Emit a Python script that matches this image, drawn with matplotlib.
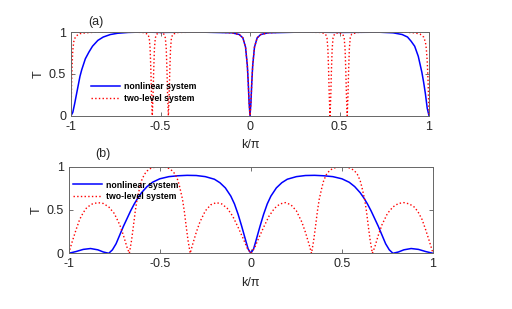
import matplotlib
matplotlib.use("Agg")
import matplotlib.pyplot as plt

plt.rcParams['font.family'] = ['Liberation Sans', 'DejaVu Sans']
plt.rcParams['axes.unicode_minus'] = False

# panel (a)
k_top_nl = [-1.0, -0.99, -0.98, -0.97, -0.96, -0.95, -0.94, -0.92, -0.90, -0.88,
            -0.85, -0.82, -0.78, -0.74, -0.68, -0.6, -0.5, -0.3, -0.1, -0.06,
            -0.04, -0.025, -0.015, -0.01, -0.005, 0.0,
            0.005, 0.01, 0.015, 0.025, 0.04, 0.06, 0.1, 0.3, 0.5,
            0.72, 0.8, 0.85, 0.88, 0.9, 0.92, 0.94, 0.96, 0.97, 0.98, 0.99, 1.0]
T_top_nl = [0, 0.04, 0.14, 0.25, 0.36, 0.47, 0.55, 0.68, 0.76, 0.83,
            0.9, 0.94, 0.97, 0.985, 0.995, 1.0, 0.995, 1.0, 0.99, 0.97,
            0.93, 0.82, 0.6, 0.4, 0.15, 0,
            0.15, 0.4, 0.6, 0.82, 0.93, 0.97, 0.99, 1.0, 0.995,
            0.998, 0.99, 0.97, 0.94, 0.89, 0.83, 0.71, 0.52, 0.4, 0.26, 0.09, 0]

k_top_tl = [-1.0, -0.997, -0.994, -0.99, -0.985, -0.98, -0.97, -0.95, -0.92, -0.85, -0.7, -0.6,
            -0.571, -0.563, -0.558, -0.554, -0.55, -0.546, -0.542, -0.538, -0.534, -0.529, -0.521, -0.5,
            -0.481, -0.473, -0.468, -0.464, -0.46, -0.456, -0.452, -0.448, -0.444, -0.439, -0.431, -0.4,
            -0.2, -0.1, -0.06, -0.04, -0.025, -0.015, -0.01, -0.005, 0.0,
            0.005, 0.01, 0.015, 0.025, 0.04, 0.06, 0.1, 0.2,
            0.4, 0.422, 0.430, 0.435, 0.439, 0.443, 0.447, 0.451, 0.455, 0.459, 0.464, 0.472, 0.495,
            0.518, 0.526, 0.531, 0.535, 0.539, 0.543, 0.547, 0.551, 0.555, 0.560, 0.568, 0.6,
            0.7, 0.85, 0.92, 0.95, 0.97, 0.98, 0.985, 0.99, 0.995, 1.0]
T_top_tl = [0, 0.35, 0.6, 0.78, 0.88, 0.92, 0.955, 0.98, 0.99, 1.0, 1.0, 0.995,
            0.975, 0.93, 0.8, 0.55, 0.22, 0, 0.22, 0.55, 0.8, 0.93, 0.975, 0.995,
            0.975, 0.93, 0.8, 0.55, 0.22, 0, 0.22, 0.55, 0.8, 0.93, 0.975, 0.995,
            1.0, 0.99, 0.97, 0.93, 0.82, 0.6, 0.4, 0.15, 0,
            0.15, 0.4, 0.6, 0.82, 0.93, 0.97, 0.99, 1.0,
            0.995, 0.975, 0.93, 0.8, 0.55, 0.22, 0, 0.22, 0.55, 0.8, 0.93, 0.975, 0.995,
            0.975, 0.93, 0.8, 0.55, 0.22, 0, 0.22, 0.55, 0.8, 0.93, 0.975, 0.995,
            1.0, 1.0, 0.99, 0.975, 0.94, 0.88, 0.8, 0.65, 0.4, 0]

# panel (b)
k_bot_nl = [-1.0, -0.96, -0.92, -0.88, -0.84, -0.81, -0.78, -0.76, -0.74, -0.72,
            -0.7, -0.68, -0.66, -0.64, -0.62, -0.6, -0.57, -0.54, -0.5, -0.45,
            -0.4, -0.35, -0.3, -0.25, -0.2, -0.17, -0.14, -0.11, -0.09, -0.07,
            -0.05, -0.03, -0.015, 0.0,
            0.015, 0.03, 0.05, 0.07, 0.09, 0.11, 0.14, 0.17, 0.2, 0.25,
            0.3, 0.35, 0.4, 0.45, 0.5, 0.54, 0.57, 0.6, 0.62, 0.64,
            0.66, 0.68, 0.7, 0.72, 0.74, 0.76, 0.78, 0.81, 0.84, 0.88, 0.92, 0.96, 1.0]
T_bot_nl = [0, 0.02, 0.045, 0.055, 0.04, 0.015, 0.0, 0.04, 0.11, 0.21,
            0.31, 0.4, 0.49, 0.57, 0.64, 0.7, 0.77, 0.82, 0.86, 0.885,
            0.895, 0.9, 0.898, 0.885, 0.855, 0.815, 0.755, 0.66, 0.57, 0.45,
            0.31, 0.16, 0.05, 0,
            0.05, 0.16, 0.31, 0.45, 0.57, 0.66, 0.755, 0.815, 0.855, 0.885,
            0.898, 0.9, 0.895, 0.885, 0.86, 0.82, 0.77, 0.7, 0.64, 0.57,
            0.49, 0.4, 0.31, 0.21, 0.11, 0.04, 0.0, 0.015, 0.04, 0.055, 0.045, 0.02, 0]

k_bot_tl = [-1.0, -0.98, -0.96, -0.94, -0.92, -0.9, -0.87, -0.84, -0.81, -0.78, -0.75, -0.72, -0.7, -0.68, -0.667,
            -0.655, -0.645, -0.635, -0.625, -0.61, -0.6, -0.585, -0.57, -0.55, -0.525, -0.5,
            -0.475, -0.45, -0.43, -0.415, -0.4, -0.39, -0.375, -0.365, -0.355, -0.345, -0.333,
            -0.32, -0.3, -0.28, -0.25, -0.22, -0.19, -0.16, -0.13, -0.1, -0.07, -0.04, -0.02, 0.0,
            0.02, 0.04, 0.07, 0.1, 0.13, 0.16, 0.19, 0.22, 0.25, 0.28, 0.3, 0.32, 0.333,
            0.345, 0.355, 0.365, 0.375, 0.39, 0.4, 0.415, 0.43, 0.45, 0.475, 0.5,
            0.525, 0.55, 0.57, 0.585, 0.6, 0.61, 0.625, 0.635, 0.645, 0.655, 0.667,
            0.68, 0.7, 0.72, 0.75, 0.78, 0.81, 0.84, 0.87, 0.9, 0.92, 0.94, 0.96, 0.98, 1.0]
T_bot_tl = [0, 0.14, 0.27, 0.39, 0.47, 0.53, 0.57, 0.585, 0.575, 0.535, 0.46, 0.33, 0.21, 0.07, 0,
            0.15, 0.31, 0.48, 0.62, 0.76, 0.84, 0.91, 0.95, 0.98, 0.995, 1.0,
            0.995, 0.98, 0.95, 0.91, 0.84, 0.76, 0.62, 0.48, 0.31, 0.15, 0,
            0.1, 0.24, 0.36, 0.49, 0.56, 0.585, 0.57, 0.52, 0.43, 0.3, 0.16, 0.06, 0,
            0.06, 0.16, 0.3, 0.43, 0.52, 0.57, 0.585, 0.56, 0.49, 0.36, 0.24, 0.1, 0,
            0.15, 0.31, 0.48, 0.62, 0.76, 0.84, 0.91, 0.95, 0.98, 0.995, 1.0,
            0.995, 0.98, 0.95, 0.91, 0.84, 0.76, 0.62, 0.48, 0.31, 0.15, 0,
            0.07, 0.21, 0.33, 0.46, 0.535, 0.575, 0.585, 0.57, 0.53, 0.47, 0.39, 0.27, 0.14, 0]

xticks = [-1, -0.5, 0, 0.5, 1]
xticklabels = ['-1', '-0.5', '0', '0.5', '1']
yticks = [0, 0.5, 1]
yticklabels = ['0', '0.5', '1']
labels = ['nonlinear system', 'two-level system']


def style(ax):
    ax.set_xlim(-1, 1)
    ax.set_ylim(0, 1)
    ax.set_xticks(xticks)
    ax.set_xticklabels(xticklabels)
    ax.set_yticks(yticks)
    ax.set_yticklabels(yticklabels)
    ax.tick_params(direction='in', top=True, right=True, length=3, width=0.6,
                   color='0.35', labelsize=9, labelcolor='#262626', pad=3.5)
    for s in ax.spines.values():
        s.set_color('0.4')
        s.set_linewidth(0.7)
    ax.set_xlabel('k/\u03c0', fontsize=9, color='#262626', labelpad=5)
    ax.set_ylabel('T', fontsize=9, color='#262626', labelpad=3)


fig = plt.figure(figsize=(5.12, 3.09), dpi=100)

ax1 = fig.add_axes([0.1387, 0.6256, 0.6992, 0.2708])
ax1.plot(k_top_nl, T_top_nl, color='#0000ff', lw=1.1, label=labels[0])
ax1.plot(k_top_tl, T_top_tl, color='#ff0000', lw=1.0, ls=':', label=labels[1])
style(ax1)
ax1.legend(loc='upper left', bbox_to_anchor=(0.055, 0.40), frameon=False,
           prop={'weight': 'bold', 'size': 6.3}, handlelength=3.3,
           handletextpad=0.45, labelspacing=0.3, borderpad=0, borderaxespad=0)
fig.text(96 / 512, 1 - 21.7 / 309, '(a)', fontsize=9, ha='center', va='center', color='#262626')

ax2 = fig.add_axes([0.1342, 0.1803, 0.7115, 0.2803])
ax2.plot(k_bot_nl, T_bot_nl, color='#0000ff', lw=1.1, label=labels[0])
ax2.plot(k_bot_tl, T_bot_tl, color='#ff0000', lw=1.0, ls=':', label=labels[1])
style(ax2)
ax2.legend(loc='upper left', bbox_to_anchor=(0.013, 0.84), frameon=False,
           prop={'weight': 'bold', 'size': 6.3}, handlelength=3.3,
           handletextpad=0.45, labelspacing=0.3, borderpad=0, borderaxespad=0)
fig.text(103 / 512, 1 - 154 / 309, '(b)', fontsize=9, ha='center', va='center', color='#262626')

fig.savefig('out.png', dpi=100)
